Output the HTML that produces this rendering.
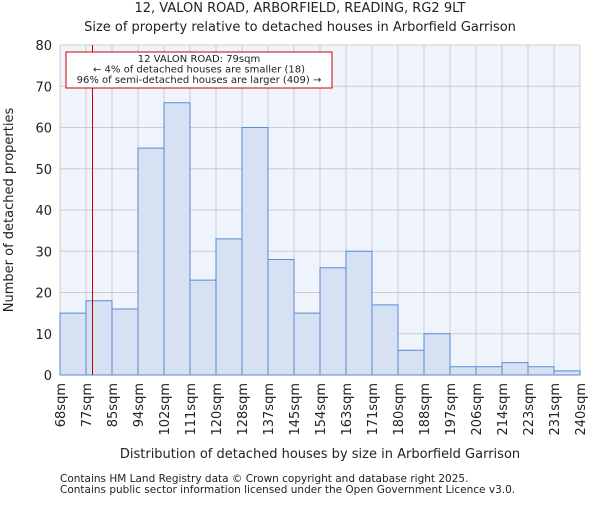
<!DOCTYPE html>
<html><head><meta charset="utf-8"><style>
body{margin:0;background:#fff}
svg text{font-family:"DejaVu Sans","Liberation Sans",sans-serif;fill:#222}
</style></head><body>
<svg width="600" height="500">
<text x="300" y="12" text-anchor="middle" font-size="13">12, VALON ROAD, ARBORFIELD, READING, RG2 9LT</text>
<text x="300" y="31" text-anchor="middle" font-size="13">Size of property relative to detached houses in Arborfield Garrison</text>
<rect x="60" y="45" width="520" height="330" fill="#eff3fb"/>
<g id="grid"></g><g id="bars"></g><g id="axes"></g>
<text transform="translate(13,210) rotate(-90)" text-anchor="middle" font-size="13">Number of detached properties</text>
<text x="320" y="458" text-anchor="middle" font-size="13">Distribution of detached houses by size in Arborfield Garrison</text>
<text x="60" y="482" font-size="10.5" fill="#444">Contains HM Land Registry data © Crown copyright and database right 2025.</text>
<text x="60" y="493" font-size="10.5" fill="#444">Contains public sector information licensed under the Open Government Licence v3.0.</text>
<g id="annot"></g>
</svg>
<script>
const categories=["68sqm","77sqm","85sqm","94sqm","102sqm","111sqm","120sqm","128sqm","137sqm","145sqm","154sqm","163sqm","171sqm","180sqm","188sqm","197sqm","206sqm","214sqm","223sqm","231sqm","240sqm"];
const values=[15,18,16,55,66,23,33,60,28,15,26,30,17,6,10,2,2,3,2,1];
const yTicks=[0,10,20,30,40,50,60,70,80];
const markerValue=79;
const edgeValues=[68,77,85,94,102,111,120,128,137,145,154,163,171,180,188,197,206,214,223,231,240];
const X0=60,X1=580,Y0=375,Y1=45,YMAX=80;
const NS="http://www.w3.org/2000/svg";
const xi=i=>X0+i*(X1-X0)/values.length;
const y=v=>Y0-v/YMAX*(Y0-Y1);
function mk(p,t,a){const e=document.createElementNS(NS,t);for(const k in a)e.setAttribute(k,a[k]);p.appendChild(e);return e;}
const grid=document.getElementById('grid'),bars=document.getElementById('bars'),axes=document.getElementById('axes'),annot=document.getElementById('annot');
yTicks.forEach(t=>{const l=mk(grid,'line',{x1:X0,x2:X1,y1:y(t),y2:y(t),stroke:'#ccc','stroke-width':1});


const tx=mk(axes,'text',{x:X0-8,y:y(t)+5,'text-anchor':'end','font-size':13});tx.textContent=t;

});
categories.forEach((c,i)=>{const l=mk(grid,'line',{x1:xi(i),x2:xi(i),y1:Y1,y2:Y0,stroke:'#ccc','stroke-width':1});


const tx=mk(axes,'text',{transform:`translate(${xi(i)+5},383) rotate(-90)`,'text-anchor':'end','font-size':13});tx.textContent=c;

});
values.forEach((v,i)=>{const r=mk(bars,'rect',{x:xi(i),y:y(v),width:xi(i+1)-xi(i),height:Y0-y(v),fill:'#d6e1f4',stroke:'#5a8ad6','stroke-width':1});

});
let mi=0;for(let i=0;i<edgeValues.length-1;i++)if(markerValue>=edgeValues[i]&&markerValue<=edgeValues[i+1])mi=i;
const mx=xi(mi)+(markerValue-edgeValues[mi])/(edgeValues[mi+1]-edgeValues[mi])*(xi(mi+1)-xi(mi));
const ml=mk(annot,'line',{x1:mx,x2:mx,y1:Y1,y2:Y0,stroke:'#c00','stroke-width':1});


const box=mk(annot,'rect',{x:66,y:52,width:266,height:36,fill:'#fff',stroke:'#c00','stroke-width':1});


["12 VALON ROAD: 79sqm","← 4% of detached houses are smaller (18)","96% of semi-detached houses are larger (409) →"].forEach((s,k)=>{
const t=mk(annot,'text',{x:199,y:62+k*10.5,'text-anchor':'middle','font-size':10});t.textContent=s;

});
</script>
</body></html>
